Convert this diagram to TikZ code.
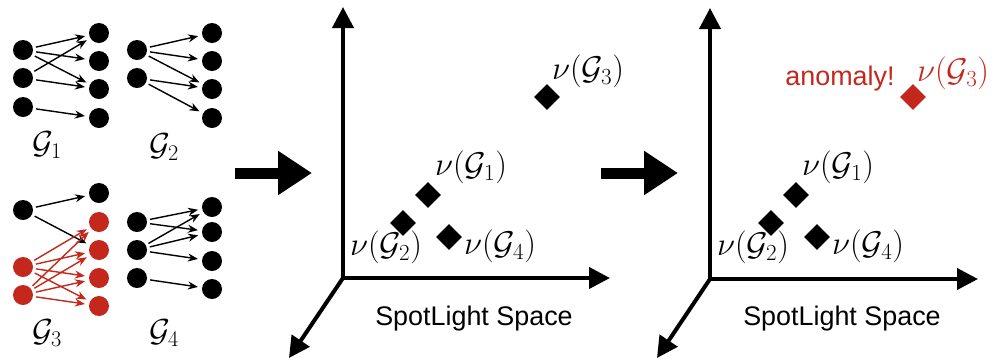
\RequirePackage{fix-cm}
\documentclass[tikz,border=0pt]{standalone}
\usepackage{fontspec}
\setsansfont{Liberation Sans}
\usetikzlibrary{arrows.meta,shapes.geometric}
\definecolor{anred}{RGB}{196,40,28}
\begin{document}
\begin{tikzpicture}[x=1bp,y=-1bp,
  gnode/.style={circle,fill=black,inner sep=0pt,minimum size=20bp},
  rnode/.style={gnode,fill=anred},
  edge/.style={-{Stealth[length=10bp,width=8bp]},line width=1.4bp,shorten >=4bp,shorten <=3bp},
  redge/.style={edge,draw=anred},
  axis/.style={line width=4bp,-{Triangle[length=21bp,width=21bp]}},
  dia/.style={diamond,fill=black,inner sep=0pt,minimum size=26bp},
  rdia/.style={dia,fill=anred},
  mlab/.style={font=\fontsize{33}{38}\selectfont,inner sep=0pt},
  glab/.style={font=\fontsize{32}{38}\selectfont,inner sep=0pt},
  txt/.style={font=\sffamily\fontsize{27}{32}\selectfont,inner sep=0pt},
  bigarrow/.style={line width=11bp,-{Triangle[length=34bp,width=42bp]}}]
\useasboundingbox (0,0) rectangle (995,360);

% ---------- G1 ----------
\node[gnode] (a1) at (23,50) {};
\node[gnode] (a2) at (23,78) {};
\node[gnode] (a3) at (23,107) {};
\node[gnode] (b1) at (99,33) {};
\node[gnode] (b2) at (99,61) {};
\node[gnode] (b3) at (99,89) {};
\node[gnode] (b4) at (99,118) {};
\draw[edge] (a1) -- (b1);
\draw[edge] (a1) -- (b2);
\draw[edge] (a1) -- (b3);
\draw[edge] (a2) -- (b1);
\draw[edge] (a2) -- (b3);
\draw[edge] (a3) -- (b4);
\node[glab] (l1) at (47,145) {$\mathcal{G}_1$};

% ---------- G2 ----------
\node[gnode] (c1) at (137,50) {};
\node[gnode] (c2) at (137,78) {};
\node[gnode] (d1) at (212,33) {};
\node[gnode] (d2) at (212,61) {};
\node[gnode] (d3) at (212,89) {};
\node[gnode] (d4) at (212,118) {};
\draw[edge] (c1) -- (d1);
\draw[edge] (c1) -- (d2);
\draw[edge] (c1) -- (d3);
\draw[edge] (c2) -- (d3);
\draw[edge] (c2) -- (d4);
\node[glab] (l2) at (164,147) {$\mathcal{G}_2$};

% ---------- G3 ----------
\node[gnode] (e1) at (23,210) {};
\node[rnode] (e2) at (23,267) {};
\node[rnode] (e3) at (23,295) {};
\node[gnode] (f1) at (99,193) {};
\node[rnode] (f2) at (99,222) {};
\node[rnode] (f3) at (99,250) {};
\node[rnode] (f4) at (99,278) {};
\node[rnode] (f5) at (99,306) {};
\draw[edge] (e1) -- (f1);
\draw[edge] (e1) -- (f3);
\foreach \s in {e2,e3}{
  \foreach \t in {f2,f3,f4,f5}{
    \draw[redge] (\s) -- (\t);
  }
}
\node[glab] (l3) at (47,333) {$\mathcal{G}_3$};

% ---------- G4 ----------
\node[gnode] (g1) at (137,222) {};
\node[gnode] (g2) at (137,250) {};
\node[gnode] (g3) at (137,278) {};
\node[gnode] (h1) at (212,207) {};
\node[gnode] (h2) at (212,232) {};
\node[gnode] (h3) at (212,261) {};
\node[gnode] (h4) at (212,289) {};
\draw[edge] (g1) -- (h1);
\draw[edge] (g1) -- (h2);
\draw[edge] (g2) -- (h1);
\draw[edge] (g2) -- (h2);
\draw[edge] (g2) -- (h3);
\draw[edge] (g3) -- (h4);
\node[glab] (l4) at (164,333) {$\mathcal{G}_4$};

% ---------- big arrows ----------
\coordinate (p1s) at (235,173);
\coordinate (p1e) at (312,173);
\draw[bigarrow] (p1s) -- (p1e);
\coordinate (p2s) at (601,173);
\coordinate (p2e) at (678,173);
\draw[bigarrow] (p2s) -- (p2e);

% ---------- middle plot ----------
\coordinate (o1) at (343,278);
\coordinate (y1) at (343,7);
\coordinate (x1) at (610,278);
\coordinate (z1) at (289,358);
\draw[axis] (o1) -- (y1);
\draw[axis] (o1) -- (x1);
\draw[axis] (o1) -- (z1);
\fill (341,276) rectangle (345,280);
\node[dia] (m3) at (547,97) {};
\node[dia] (m1) at (428,195) {};
\node[dia] (m2) at (403,223) {};
\node[dia] (m4) at (449,237) {};
\node[mlab] (t3) at (588,71) {$\nu(\mathcal{G}_3)$};
\node[mlab] (t1) at (471,167) {$\nu(\mathcal{G}_1)$};
\node[mlab] (t2) at (386,247) {$\nu(\mathcal{G}_2)$};
\node[mlab] (t4) at (500,246) {$\nu(\mathcal{G}_4)$};
\node[txt,anchor=base] (s1) at (474,325) {SpotLight Space};

% ---------- right plot ----------
\coordinate (o2) at (710,279);
\coordinate (y2) at (710,8);
\coordinate (x2) at (978,279);
\coordinate (z2) at (657,358);
\draw[axis] (o2) -- (y2);
\draw[axis] (o2) -- (x2);
\draw[axis] (o2) -- (z2);
\fill (708,277) rectangle (712,281);
\node[rdia] (n3) at (913,97) {};
\node[dia] (n1) at (796,195) {};
\node[dia] (n2) at (771,223) {};
\node[dia] (n4) at (817,237) {};
\node[mlab,text=anred] (u3) at (953,73) {$\nu(\mathcal{G}_3)$};
\node[txt,text=anred,anchor=base] (an) at (840,85) {anomaly!};
\node[mlab] (u1) at (838,167) {$\nu(\mathcal{G}_1)$};
\node[mlab] (u2) at (753,247) {$\nu(\mathcal{G}_2)$};
\node[mlab] (u4) at (868,246) {$\nu(\mathcal{G}_4)$};
\node[txt,anchor=base] (s2) at (842,325) {SpotLight Space};
\end{tikzpicture}
\end{document}
